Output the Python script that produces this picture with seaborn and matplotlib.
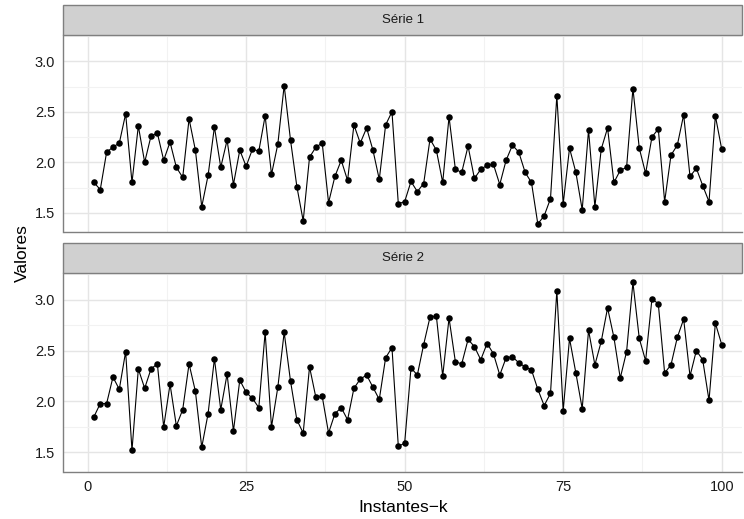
import numpy as np
import pandas as pd
import matplotlib
matplotlib.use("Agg")
import matplotlib.pyplot as plt
import seaborn as sns
from matplotlib.patches import Rectangle
from matplotlib.ticker import MultipleLocator

instantes = list(range(1, 101))
serie1 = [1.80, 1.73, 2.10, 2.15, 2.19, 2.48, 1.80, 2.36, 2.00, 2.26,
          2.29, 2.02, 2.20, 1.95, 1.85, 2.43, 2.12, 1.56, 1.87, 2.35,
          1.95, 2.22, 1.78, 2.12, 1.96, 2.13, 2.11, 2.46, 1.88, 2.18,
          2.76, 2.22, 1.76, 1.42, 2.05, 2.15, 2.19, 1.60, 1.86, 2.02,
          1.82, 2.37, 2.19, 2.34, 2.12, 1.83, 2.37, 2.50, 1.59, 1.61,
          1.81, 1.71, 1.79, 2.23, 2.12, 1.80, 2.45, 1.93, 1.90, 2.16,
          1.84, 1.93, 1.97, 1.98, 1.78, 2.02, 2.17, 2.10, 1.90, 1.80,
          1.39, 1.47, 1.64, 2.66, 1.59, 2.14, 1.90, 1.53, 2.32, 1.56,
          2.13, 2.34, 1.80, 1.92, 1.95, 2.73, 2.14, 1.89, 2.25, 2.33,
          1.61, 2.07, 2.17, 2.47, 1.86, 1.94, 1.77, 1.61, 2.46, 2.13]
serie2 = [1.85, 1.98, 1.98, 2.24, 2.12, 2.49, 1.52, 2.32, 2.13, 2.32,
          2.37, 1.75, 2.17, 1.76, 1.92, 2.37, 2.10, 1.55, 1.88, 2.42,
          1.92, 2.27, 1.71, 2.21, 2.09, 2.03, 1.94, 2.68, 1.75, 2.14,
          2.68, 2.20, 1.82, 1.69, 2.34, 2.04, 2.05, 1.69, 1.88, 1.94,
          1.82, 2.13, 2.22, 2.26, 2.14, 2.02, 2.43, 2.53, 1.56, 1.59,
          2.33, 2.26, 2.56, 2.83, 2.84, 2.25, 2.82, 2.39, 2.37, 2.61,
          2.54, 2.41, 2.57, 2.47, 2.26, 2.43, 2.44, 2.38, 2.34, 2.31,
          2.12, 1.96, 2.08, 3.09, 1.91, 2.62, 2.28, 1.93, 2.70, 2.36,
          2.59, 2.92, 2.63, 2.23, 2.49, 3.17, 2.62, 2.40, 3.01, 2.96,
          2.28, 2.36, 2.63, 2.81, 2.25, 2.50, 2.41, 2.01, 2.77, 2.56]
series_names = ["Série 1", "Série 2"]
x_ticks = [0, 25, 50, 75, 100]
y_ticks = [1.5, 2.0, 2.5, 3.0]

df = pd.DataFrame({
    "k": instantes * 2,
    "valor": serie1 + serie2,
    "serie": [series_names[0]] * 100 + [series_names[1]] * 100,
})

sns.set_style("white")
plt.rcParams["font.family"] = ["Liberation Sans", "DejaVu Sans"]

W, H = 744, 519
fig = plt.figure(figsize=(W / 100, H / 100), dpi=100)

left, right = 63.5, 742
panels = [(35, 232, 5), (273.3, 471.7, 243.3)]  # (top, bottom, strip_top) px

border_col = "#7f7f7f"
for i, (name, (top, bot, stop)) in enumerate(zip(series_names, panels)):
    ax = fig.add_axes([left / W, 1 - bot / H, (right - left) / W, (bot - top) / H])
    sub = df[df["serie"] == name]
    sns.lineplot(data=sub, x="k", y="valor", ax=ax, color="black", linewidth=0.8,
                 legend=False)
    sns.scatterplot(data=sub, x="k", y="valor", ax=ax, color="black", s=22,
                    edgecolor="black", linewidth=0, legend=False, zorder=3)
    ax.set_xlim(-3.8, 103.2)
    ax.set_ylim(1.31, 3.26)
    ax.set_xticks(x_ticks)
    ax.set_yticks(y_ticks)
    ax.set_yticklabels([f"{v:.1f}" for v in y_ticks])
    ax.xaxis.set_minor_locator(MultipleLocator(12.5))
    ax.yaxis.set_minor_locator(MultipleLocator(0.25))
    ax.grid(True, which="major", color="#e5e5e5", linewidth=1.0)
    ax.grid(True, which="minor", color="#f2f2f2", linewidth=0.8)
    ax.set_axisbelow(True)
    for s in ["top", "right"]:
        ax.spines[s].set_visible(False)
    for s in ["left", "bottom"]:
        ax.spines[s].set_color(border_col)
        ax.spines[s].set_linewidth(1.0)
    ax.tick_params(axis="both", which="major", length=4, width=0.8,
                   color="#333333", labelsize=10.5, labelcolor="#1a1a1a", pad=2)
    ax.tick_params(axis="both", which="minor", length=0)
    ax.set_ylabel("")
    ax.set_xlabel("")
    if i == 0:
        ax.tick_params(axis="x", which="major", length=0, labelbottom=False)
    # strip
    sax = fig.add_axes([left / W, 1 - top / H, (right - left) / W, (top - stop) / H])
    sax.set_xlim(0, 1)
    sax.set_ylim(0, 1)
    sax.axis("off")
    sax.add_patch(Rectangle((0, 0), 1, 1, facecolor="#d0d0d0", edgecolor=border_col,
                            linewidth=1.0, transform=sax.transAxes, clip_on=False))
    sax.text(0.5, 0.5, name, ha="center", va="center", fontsize=9.5, color="#1a1a1a")

fig.text(22 / W, 1 - 253 / H, "Valores", rotation=90, ha="center", va="center",
         fontsize=12.5, color="black")
fig.text((left + right) / 2 / W, 1 - 508 / H, "Instantes\u2212k", ha="center",
         va="center", fontsize=12.5, color="black")

fig.savefig("out.png", dpi=100)
